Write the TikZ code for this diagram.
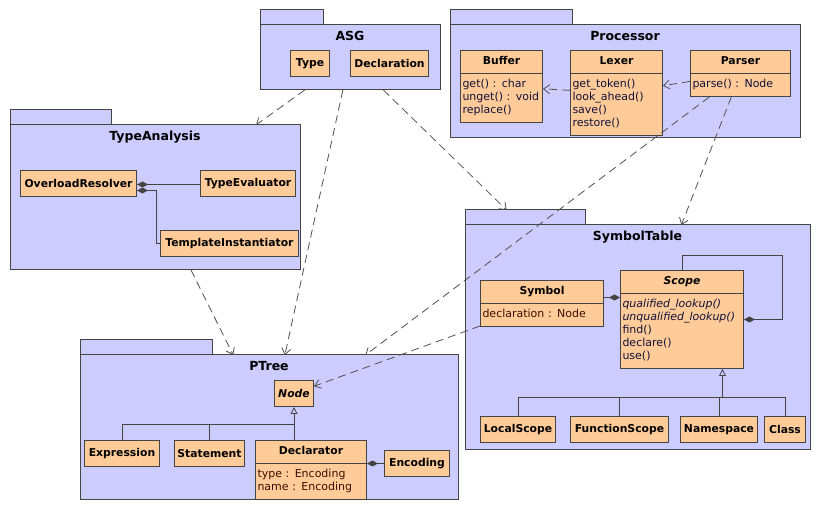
\documentclass[tikz,border=0pt]{standalone}
\usepackage{fontspec}
\setmainfont{DejaVu Sans}
\usetikzlibrary{arrows.meta,shapes.multipart,calc}

\definecolor{pkgfill}{HTML}{CCCCFF}
\definecolor{clsfill}{HTML}{FFCC99}
\definecolor{linecol}{HTML}{444444}
\definecolor{depcol}{HTML}{505050}
\definecolor{attrcol}{HTML}{3A0F00}
\definecolor{opcol}{HTML}{10103A}

\newcommand\clsname[1]{\centering\rule[-3.9pt]{0pt}{13pt}\textbf{#1}\par}
\newcommand\opsbody[1]{\raggedright\fontsize{11}{13}\selectfont\mdseries\color{opcol}\strut#1\strut\par}
\newcommand\attrbody[1]{\raggedright\fontsize{11}{13}\selectfont\mdseries\color{attrcol}\strut#1\strut\par}

\begin{document}
\begin{tikzpicture}[x=1pt, y=-1pt,
   pkg/.style={draw=linecol, fill=pkgfill, line width=1pt, anchor=north west,
               inner sep=0pt, outer sep=0pt},
   pkgtab/.style={pkg, anchor=south west, minimum height=15},
   pkgtitle/.style={anchor=north, inner sep=0pt, yshift=-6pt,
               font=\fontsize{12.5}{14}\selectfont\bfseries},
   cls/.style={draw=linecol, fill=clsfill, line width=1pt, anchor=north west,
               inner xsep=2pt, minimum height=26,
               font=\fontsize{10.8}{13}\selectfont\bfseries},
   clsx/.style={cls, rectangle split, rectangle split parts=2, minimum height=0pt,
               inner xsep=2pt, inner ysep=4.5pt},
   dep/.style={draw=depcol, line width=0.8pt, dash pattern=on 8pt off 5pt,
               -{Straight Barb[length=6pt,width=9pt]}},
   comp/.style={draw=linecol, line width=0.8pt, {Diamond[length=11pt,width=6pt]}-},
   tree/.style={draw=linecol, line width=0.8pt},
   gen/.style={tree, -{Triangle[open,length=7pt,width=7pt]}}]

\path[use as bounding box, fill=white] (0,0) rectangle (823,510);

% packages
\node[pkg, minimum width=180, minimum height=65] (asg) at (260,25) {};
\node[pkgtab, minimum width=63] (asgtab) at (asg.north west) {};
\node[pkgtitle] (asgtitle) at (asg.north) {ASG};

\node[pkg, minimum width=290, minimum height=145] (tana) at (10,125) {};
\node[pkgtab, minimum width=101] (tanatab) at (tana.north west) {};
\node[pkgtitle] (tanatitle) at (tana.north) {TypeAnalysis};

\node[pkg, minimum width=350, minimum height=113] (proc) at (450,25) {};
\node[pkgtab, minimum width=122] (proctab) at (proc.north west) {};
\node[pkgtitle] (proctitle) at (proc.north) {Processor};

\node[pkg, minimum width=345, minimum height=225] (symtab) at (465,225) {};
\node[pkgtab, minimum width=120] (symtabtab) at (symtab.north west) {};
\node[pkgtitle] (symtabtitle) at (symtab.north) {SymbolTable};

\node[pkg, minimum width=378, minimum height=145] (ptree) at (80,355) {};
\node[pkgtab, minimum width=132] (ptreetab) at (ptree.north west) {};
\node[pkgtitle] (ptreetitle) at (ptree.north) {PTree};

% ASG
\node[cls, minimum width=39] (type) at (290,50) {Type};
\node[cls, minimum width=78] (declaration) at (350,50) {Declaration};

% TypeAnalysis
\node[cls, minimum width=116] (ovr) at (20,170) {OverloadResolver};
\node[cls, minimum width=95] (tev) at (200,170) {TypeEvaluator};
\node[cls, minimum width=138] (tmpl) at (160,230) {TemplateInstantiator};

% Processor
\node[clsx, text width=78] (buffer) at (460,50)
   {\clsname{Buffer}\nodepart{two}\opsbody{get() : char\\unget() : void\\replace()}};
\node[clsx, text width=88] (lexer) at (570,50)
   {\clsname{Lexer}\nodepart{two}\opsbody{get\_token()\\look\_ahead()\\save()\\restore()}};
\node[clsx, text width=96] (parser) at (690,50)
   {\clsname{Parser}\nodepart{two}\opsbody{parse() : Node}};

% SymbolTable
\node[clsx, text width=119] (sym) at (480,280)
   {\clsname{Symbol}\nodepart{two}\attrbody{declaration : Node}};
\node[clsx, text width=119] (scope) at (620,270)
   {\clsname{\itshape Scope}\nodepart{two}\opsbody{\textit{qualified\_lookup()}\\
    \textit{unqualified\_lookup()}\\find()\\declare()\\use()}};
\node[cls, minimum width=75] (lscope) at (480,416) {LocalScope};
\node[cls, minimum width=98] (fscope) at (570,416) {FunctionScope};
\node[cls, minimum width=77] (nspace) at (680,416) {Namespace};
\node[cls, minimum width=41] (clsclass) at (764,416) {Class};

% PTree
\node[cls, minimum width=39] (nodecls) at (274,380) {\itshape Node};
\node[cls, minimum width=75] (expr) at (84,440) {Expression};
\node[cls, minimum width=70] (stmt) at (174,440) {Statement};
\node[clsx, text width=107] (decl) at (255,440)
   {\clsname{Declarator}\nodepart{two}\attrbody{type : Encoding\\name : Encoding}};
\node[cls, minimum width=65] (enc) at (384,450) {Encoding};

% composition
\draw[comp] ([yshift=-1pt]ovr.east) -- ([yshift=-1pt]tev.west);
\draw[comp] ([yshift=-7pt]ovr.east) -- ++(19,0) |- (tmpl.west);
\draw[comp] ([yshift=6pt]sym.east -| scope.west) -- ([yshift=6pt]sym.east);
\draw[comp] (scope.east) -- ++(38,0) |- ([yshift=15pt]scope.north) -- (scope.north);
\draw[comp] (decl.east |- enc.west) -- (enc.west);

% inheritance
\coordinate (ptbus) at ([yshift=-17pt]nodecls.south);
\draw[gen] (expr.north) |- (ptbus) -- (nodecls.south);
\draw[tree] (stmt.north) -- (stmt.north |- ptbus);
\draw[tree] (decl.north -| ptbus) -- (ptbus);

\coordinate (stbus) at ([xshift=40.5pt,yshift=-28pt]scope.south);
\draw[gen] (lscope.north) |- (stbus) -- (stbus |- scope.south);
\draw[tree] (fscope.north) -- (fscope.north |- stbus);
\draw[tree] (nspace.north) -- (nspace.north |- stbus);
\draw[tree] (clsclass.north) |- (stbus);

% dependencies
\coordinate (symtabtop) at ($(asg)!0.545!(symtab)$);
\draw[dep] (asg) -- (tana);
\draw[dep] (asg) -- (ptree);
\draw[dep] (asg) -- (symtabtop);
\draw[dep] (tana) -- (ptree);
\draw[dep] (parser) -- (ptree);
\draw[dep] (parser) -- (symtab);
\draw[dep] (sym) -- (nodecls);
\draw[dep] (lexer) -- (buffer);
\draw[dep] (parser) -- (lexer);

\end{tikzpicture}
\end{document}
